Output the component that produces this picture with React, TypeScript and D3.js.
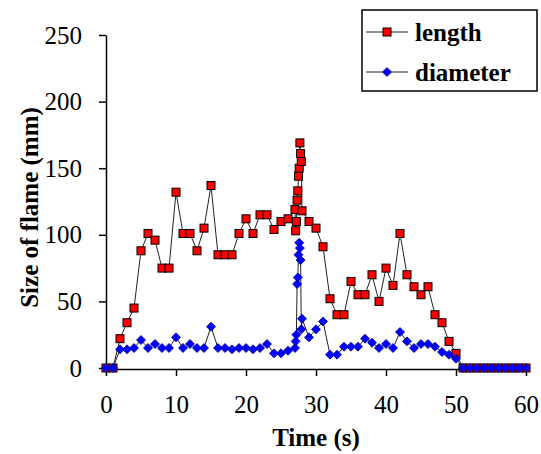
import React, { useRef, useEffect } from "react";
import * as d3 from "d3";

// time (s); the burst around 27-28 s was sampled more densely
const time = [
  0, 1, 2, 3, 4, 5, 6, 7, 8, 9, 10, 11, 12, 13, 14, 15, 16, 17, 18, 19, 20,
  21, 22, 23, 24, 25, 26, 27, 27.1, 27.2, 27.3, 27.4, 27.5, 27.6, 27.7, 27.8,
  27.9, 28, 29, 30, 31, 32, 33, 34, 35, 36, 37, 38, 39, 40, 41, 42, 43, 44,
  45, 46, 47, 48, 49, 50, 51, 52, 53, 54, 55, 56, 57, 58, 59, 60,
];
const lengthMm = [
  0, 0, 22, 34, 45, 88, 101, 96, 75, 75, 132, 101, 101, 88, 105, 137, 85, 85,
  85, 101, 112, 101, 115, 115, 104, 110, 112, 119, 103, 110, 126, 133, 144,
  150, 169, 161, 155, 118, 110, 105, 91, 52, 40, 40, 65, 55, 55, 70, 50, 75,
  62, 101, 70, 61, 55, 61, 40, 34, 20, 11, 0, 0, 0, 0, 0, 0, 0, 0, 0, 0,
];
const diameterMm = [
  0, 0, 14, 14, 15, 21, 15, 18, 15, 15, 23, 15, 18, 15, 15, 31, 15, 15, 14,
  15, 15, 14, 15, 18, 11, 11, 13, 15, 20, 25, 63, 68, 85, 94, 90, 81, 29, 37,
  23, 29, 35, 10, 10, 16, 16, 16, 22, 19, 15, 18, 15, 27, 20, 15, 18, 18, 16,
  12, 10, 7, 0, 0, 0, 0, 0, 0, 0, 0, 0, 0,
];
const xTicks = [0, 10, 20, 30, 40, 50, 60];
const yTicks = [0, 50, 100, 150, 200, 250];
const seriesNames = ["length", "diameter"];

const W = 541;
const H = 454;
const serif = '"Times New Roman", Times, "Liberation Serif", "DejaVu Serif", serif';

const x = d3.scaleLinear().domain([0, 60]).range([106, 526]);
const y = d3.scaleLinear().domain([0, 250]).range([368, 35]);

const diamond = (cx: number, cy: number, r: number) =>
  `M${cx},${cy - r}L${cx + r},${cy}L${cx},${cy + r}L${cx - r},${cy}Z`;

const App = () => {
  const xRef = useRef<SVGGElement>(null);
  const yRef = useRef<SVGGElement>(null);

  useEffect(() => {
    const xa = d3
      .axisBottom(x)
      .tickValues(xTicks)
      .tickSize(7)
      .tickSizeOuter(0)
      .tickPadding(19);
    const ya = d3
      .axisLeft(y)
      .tickValues(yTicks)
      .tickSize(7)
      .tickSizeOuter(0)
      .tickPadding(17);
    const gx = d3.select(xRef.current);
    gx.selectAll("*").remove();
    gx.call(xa as any);
    const gy = d3.select(yRef.current);
    gy.selectAll("*").remove();
    gy.call(ya as any);
    [gx, gy].forEach((g) => {
      g.attr("font-family", null).attr("font-size", null);
      g.selectAll("path, line").attr("stroke", "#000").attr("stroke-width", 1.5);
      g.selectAll("text")
        .attr("fill", "#000")
        .style("font-family", serif)
        .style("font-size", "25px");
    });
  }, []);

  const pts = (vals: number[]) =>
    time.map((t, i) => [x(t), y(vals[i])] as [number, number]);
  const lenPts = pts(lengthMm);
  const diaPts = pts(diameterMm);
  const line = d3.line();

  return (
    <svg
      width={W}
      height={H}
      style={{ position: "absolute", left: 0, top: 0, background: "#fff", fontFamily: serif }}
    >
      <g ref={xRef} transform={`translate(0,${y(0) + 1})`} />
      <g ref={yRef} transform={`translate(${x(0)},0)`} />

      <path d={line(lenPts) || ""} fill="none" stroke="#222" strokeWidth={1} />
      {lenPts.map(([px, py], i) => (
        <rect
          key={"l" + i}
          x={px - 4}
          y={py - 4}
          width={8}
          height={8}
          fill="#ff0000"
          stroke="#000"
          strokeWidth={1}
        />
      ))}
      <path d={line(diaPts) || ""} fill="none" stroke="#222" strokeWidth={1} />
      {diaPts.map(([px, py], i) => (
        <path
          key={"d" + i}
          d={diamond(px, py, 4.5)}
          fill="#0000ff"
          stroke="#00008b"
          strokeWidth={0.8}
        />
      ))}

      <text x={x(30)} y={446} textAnchor="middle" fontWeight="bold" style={{ fontSize: 25 }}>
        Time (s)
      </text>
      <text
        transform={`translate(38,${y(125) + 6}) rotate(-90)`}
        textAnchor="middle"
        fontWeight="bold"
        style={{ fontSize: 25 }}
      >
        Size of flame (mm)
      </text>

      <rect x={362} y={10} width={175} height={81} fill="#fff" stroke="#000" strokeWidth={1.5} />
      {seriesNames.map((name, i) => {
        const ly = 32 + i * 40;
        return (
          <g key={name}>
            <line x1={366} x2={408} y1={ly} y2={ly} stroke="#222" strokeWidth={1} />
            {i === 0 ? (
              <rect x={383} y={ly - 4} width={8} height={8} fill="#ff0000" stroke="#000" />
            ) : (
              <path d={diamond(387, ly, 4.5)} fill="#0000ff" stroke="#00008b" strokeWidth={0.8} />
            )}
            <text x={415} y={ly + 9} fontWeight="bold" style={{ fontSize: 25 }}>
              {name}
            </text>
          </g>
        );
      })}
    </svg>
  );
};

export default App;
